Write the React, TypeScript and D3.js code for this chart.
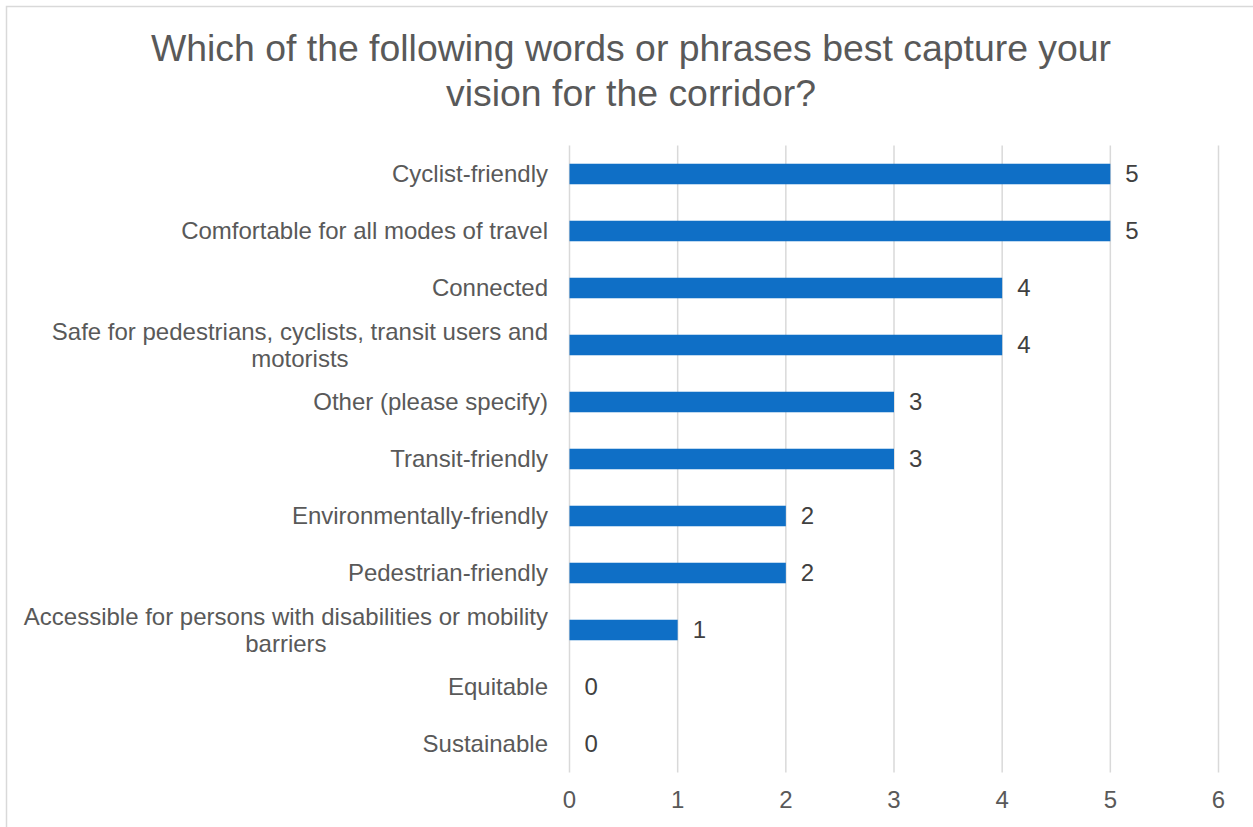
import React from "react";
import * as d3 from "d3";

const categories = [
  "Cyclist-friendly",
  "Comfortable for all modes of travel",
  "Connected",
  "Safe for pedestrians, cyclists, transit users and\nmotorists",
  "Other (please specify)",
  "Transit-friendly",
  "Environmentally-friendly",
  "Pedestrian-friendly",
  "Accessible for persons with disabilities or mobility\nbarriers",
  "Equitable",
  "Sustainable",
];
const values = [5, 5, 4, 4, 3, 3, 2, 2, 1, 0, 0];
const xTicks = [0, 1, 2, 3, 4, 5, 6];
const titleLines = [
  "Which of the following words or phrases best capture your",
  "vision for the corridor?",
];

const W = 1253;
const H = 827;
const FONT = "'Liberation Sans', Arial, sans-serif";

export default function App() {
  const x = d3.scaleLinear().domain([0, 6]).range([569.5, 1218.5]);
  const y = d3
    .scaleBand<string>()
    .domain(categories)
    .range([145.5, 772.5])
    .paddingInner(0.64)
    .paddingOuter(0.32);
  const yBand = d3.scaleBand<string>().domain(categories).range([145.5, 772.5]);

  return (
    <svg
      width={W}
      height={H}
      style={{ position: "absolute", left: 0, top: 0, background: "#fff" }}
      fontFamily={FONT}
    >
      <rect x={6.5} y={6.5} width={W + 20} height={H + 20} fill="#fff" stroke="#d9d9d9" strokeWidth={1.5} />
      {titleLines.map((t, i) => (
        <text key={i} x={631} y={61 + i * 45} textAnchor="middle" fontSize={37.4} fill="#595959">
          {t}
        </text>
      ))}
      {xTicks.map((t) => (
        <line key={t} x1={x(t)} x2={x(t)} y1={145.5} y2={772.5} stroke="#d9d9d9" strokeWidth={1.5} />
      ))}
      {xTicks.map((t) => (
        <text key={"t" + t} x={x(t)} y={800} dy="0.35em" textAnchor="middle" fontSize={24} fill="#595959">
          {t}
        </text>
      ))}
      {categories.map((c, i) => {
        const cy = (yBand(c) as number) + yBand.bandwidth() / 2;
        const lines = c.split("\n");
        const lineH = 27;
        return (
          <g key={c}>
            {values[i] > 0 && (
              <rect x={x(0)} y={y(c)} width={x(values[i]) - x(0)} height={y.bandwidth()} fill="#0F6FC6" />
            )}
            <text x={x(values[i]) + 15} y={cy} dy="0.35em" fontSize={24} fill="#404040">
              {values[i]}
            </text>
            {lines.length === 1 ? (
              <text x={548} y={cy} dy="0.35em" textAnchor="end" fontSize={24} fill="#595959">
                {lines[0]}
              </text>
            ) : (
              <LabelBlock lines={lines} cy={cy} lineH={lineH} />
            )}
          </g>
        );
      })}
    </svg>
  );
}

function LabelBlock({ lines, cy, lineH }: { lines: string[]; cy: number; lineH: number }) {
  const ref = React.useRef<SVGGElement>(null);
  const [center, setCenter] = React.useState<number | null>(null);
  React.useLayoutEffect(() => {
    if (!ref.current) return;
    const first = ref.current.querySelector("text") as SVGTextElement;
    const w = first.getComputedTextLength();
    setCenter(548 - w / 2);
  }, []);
  const n = lines.length;
  return (
    <g ref={ref}>
      {lines.map((l, i) => (
        <text
          key={i}
          x={center === null ? 548 : center}
          y={cy + (i - (n - 1) / 2) * lineH}
          dy="0.35em"
          textAnchor={center === null ? "end" : "middle"}
          fontSize={24}
          fill="#595959"
        >
          {l}
        </text>
      ))}
    </g>
  );
}
